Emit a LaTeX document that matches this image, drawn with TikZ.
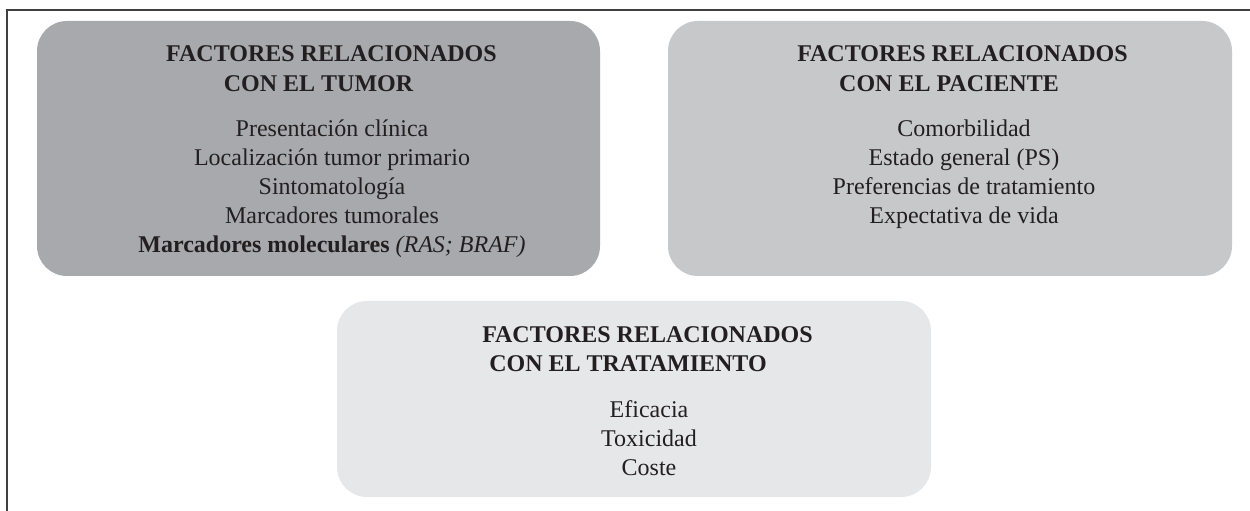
\documentclass[tikz,border=0pt]{standalone}
\usepackage{fontspec}
\setmainfont{Liberation Serif}
\definecolor{boxA}{HTML}{A7A9AC}
\definecolor{boxB}{HTML}{C7C8CA}
\definecolor{boxC}{HTML}{E6E7E8}
\definecolor{ink}{HTML}{231F20}
\begin{document}
\begin{tikzpicture}[x=1bp,y=-1bp,
  panel/.style={draw=none,rounded corners=30bp},
  ttl/.style={anchor=base,inner sep=0pt,text=ink,font=\fontsize{24bp}{29bp}\selectfont\bfseries},
  itm/.style={anchor=base,inner sep=0pt,text=ink,font=\fontsize{24bp}{29bp}\selectfont}]
\useasboundingbox (0,0) rectangle (1250,511);
% frame
\draw[line width=1.5bp,color=black!75] (1250,10) -- (7,10) -- (7,511);
% boxes
\fill[panel,boxA] (37,21) rectangle (600,276);
\fill[panel,boxB] (668,21) rectangle (1232,276);
\fill[panel,boxC] (337,301) rectangle (931,497);
% box 1
\node[ttl] (t1a) at (331.5,62) {FACTORES RELACIONADOS};
\node[ttl] (t1b) at (318.5,92) {CON EL TUMOR};
\node[itm] (a1) at (332,137) {Presentación clínica};
\node[itm] (a2) at (332,166) {Localización tumor primario};
\node[itm] (a3) at (332,195) {Sintomatología};
\node[itm] (a4) at (332,224) {Marcadores tumorales};
\node[itm] (a5) at (332,253) {\bfseries Marcadores moleculares \mdseries\itshape (RAS; BRAF)};
% box 2
\node[ttl] (t2a) at (962.5,62) {FACTORES RELACIONADOS};
\node[ttl] (t2b) at (949,92) {CON EL PACIENTE};
\node[itm] (b1) at (964,137) {Comorbilidad};
\node[itm] (b2) at (964,166) {Estado general (PS)};
\node[itm] (b3) at (964,195) {Preferencias de tratamiento};
\node[itm] (b4) at (964,224) {Expectativa de vida};
% box 3
\node[ttl] (t3a) at (647.5,343) {FACTORES RELACIONADOS};
\node[ttl] (t3b) at (628,372) {CON EL TRATAMIENTO};
\node[itm] (c1) at (649,417) {Eficacia};
\node[itm] (c2) at (649,446) {Toxicidad};
\node[itm] (c3) at (649,475) {Coste};
\end{tikzpicture}
\end{document}
